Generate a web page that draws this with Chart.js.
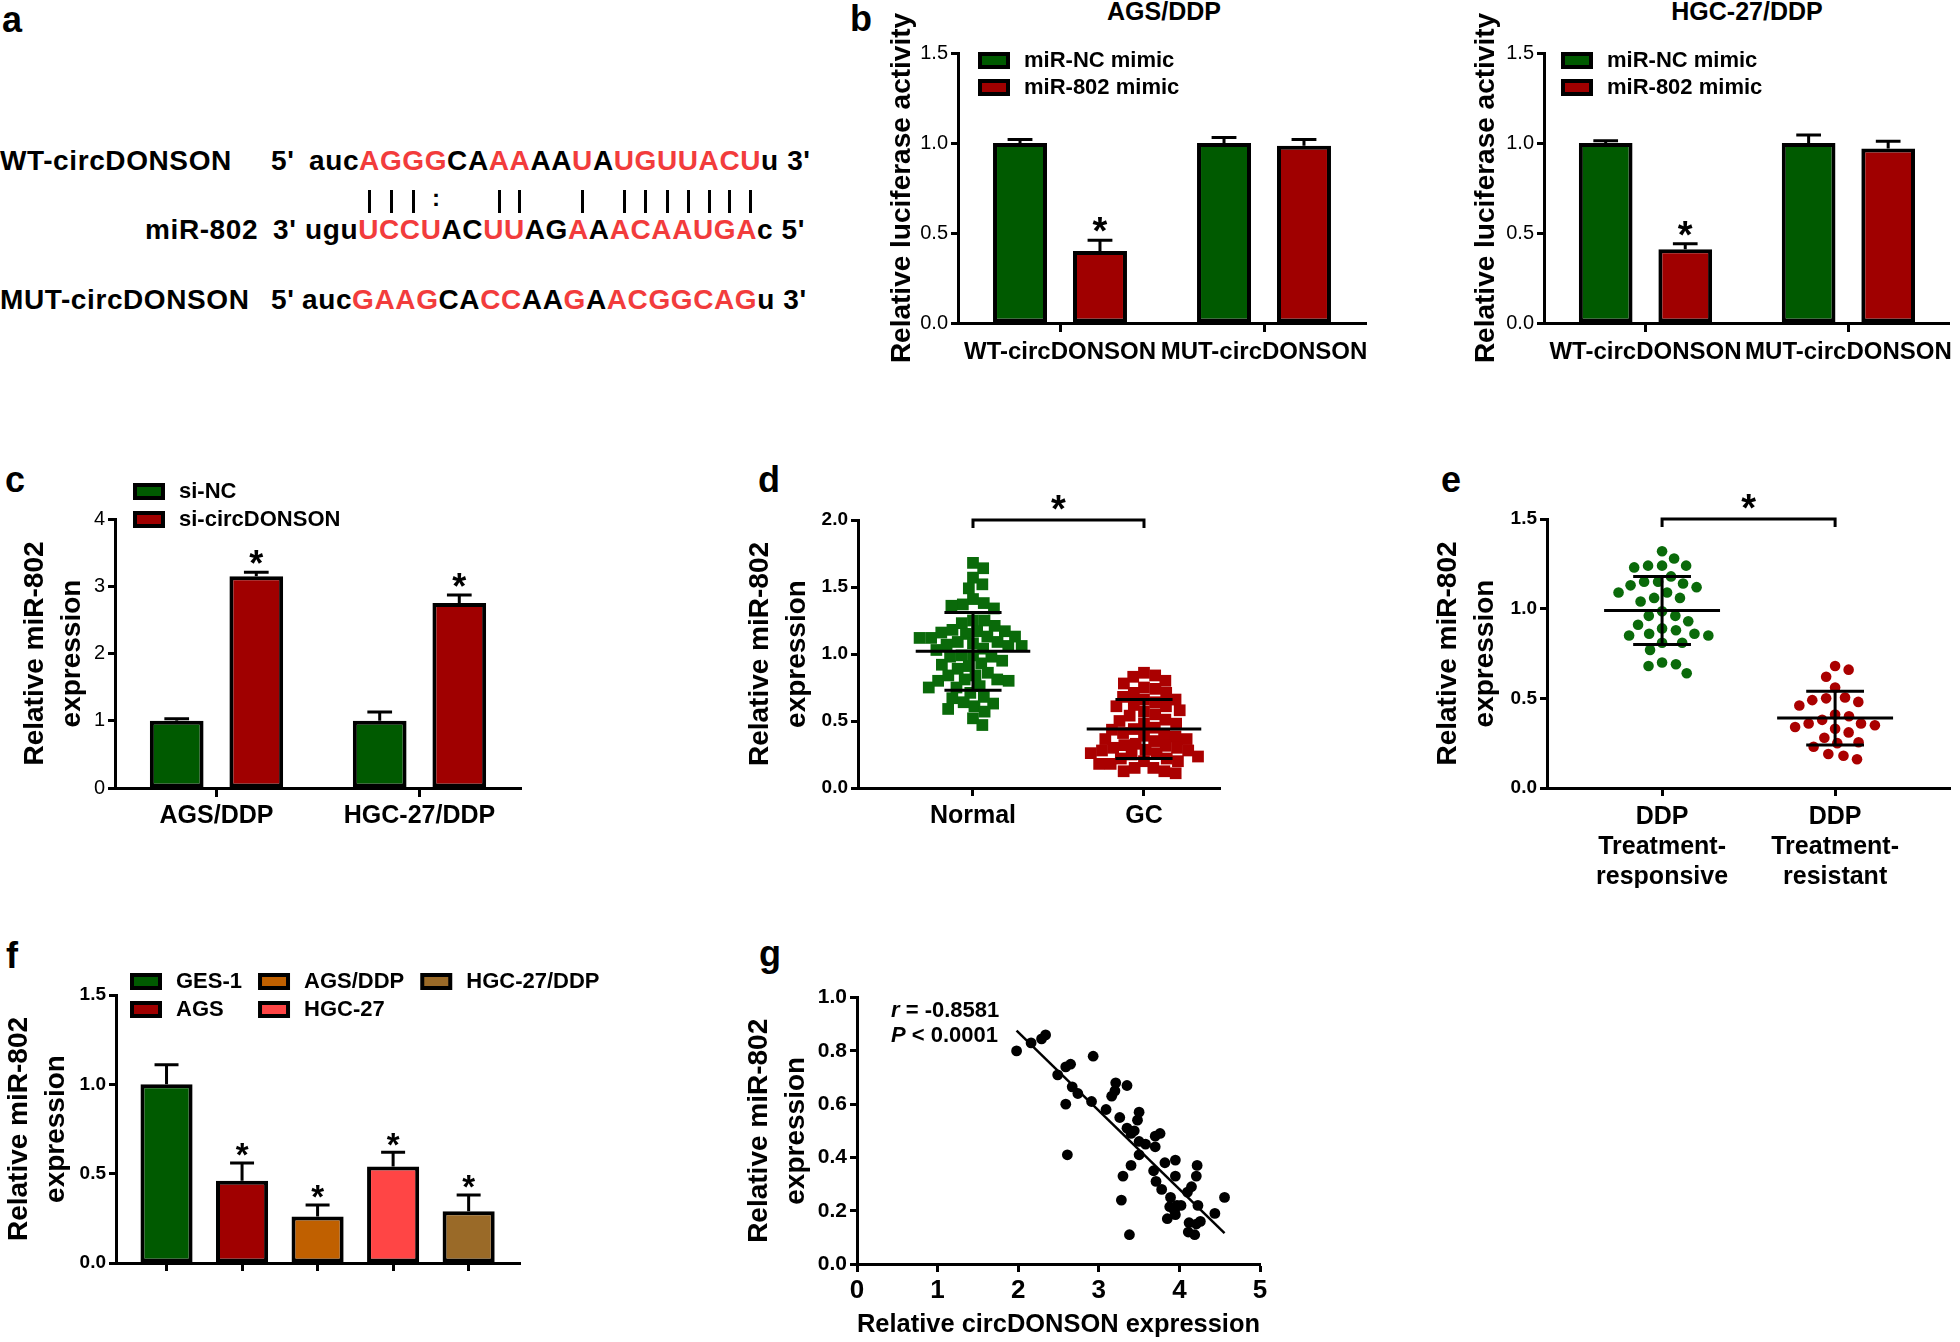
<!DOCTYPE html>
<html lang="en">
<head>
<meta charset="UTF-8">
<title>circDONSON / miR-802</title>
<script src="https://cdn.jsdelivr.net/npm/chart.js"></script>
<style>
  body { margin: 0; background: #fff; }
  #fig {
    position: relative; width: 1960px; height: 1342px; overflow: hidden;
    font-family: 'Liberation Sans', Arial, sans-serif; font-weight: bold; color: #000;
  }
  .letter { position: absolute; font-size: 36px; line-height: 1; }
  .txt { position: absolute; line-height: 1; white-space: pre; }
  .seq { font-size: 28px; letter-spacing: 0.6px; }
  .red { color: #f23c3c; }
  .pair { position: absolute; top: 190px; width: 3px; height: 23px; background: #000; }
  .box { position: absolute; }
</style>
</head>
<body>
<div id="fig">
  <!-- panel letters -->
  <div class="letter" style="left:2px;top:2px">a</div>
  <div class="letter" style="left:850px;top:1px">b</div>
  <div class="letter" style="left:5px;top:462px">c</div>
  <div class="letter" style="left:758px;top:462px">d</div>
  <div class="letter" style="left:1441px;top:462px">e</div>
  <div class="letter" style="left:6px;top:938px">f</div>
  <div class="letter" style="left:759px;top:936px">g</div>

  <!-- a: binding site -->
  <div class="txt seq" style="left:0;top:147px">WT-circDONSON</div>
  <div class="txt seq" style="left:271px;top:147px">5'</div>
  <div class="txt seq" id="seqWT" style="left:309px;top:147px"></div>
  <div class="txt seq" style="left:145px;top:216px">miR-802</div>
  <div class="txt seq" style="left:273px;top:216px">3'</div>
  <div class="txt seq" id="seqMir" style="left:305px;top:216px"></div>
  <div class="txt seq" style="left:0;top:286px">MUT-circDONSON</div>
  <div class="txt seq" style="left:271px;top:286px">5'</div>
  <div class="txt seq" id="seqMut" style="left:302px;top:286px"></div>

  <!-- b titles -->
  <div class="txt" style="left:1064px;width:200px;text-align:center;top:-1px;font-size:25px">AGS/DDP</div>
  <div class="txt" style="left:1647px;width:200px;text-align:center;top:-1px;font-size:25px">HGC-27/DDP</div>

  <div class="box" id="boxB1"><canvas id="chartB1"></canvas></div>
  <div class="box" id="boxB2"><canvas id="chartB2"></canvas></div>
  <div class="box" id="boxC"><canvas id="chartC"></canvas></div>
  <div class="box" id="boxD"><canvas id="chartD"></canvas></div>
  <div class="box" id="boxE"><canvas id="chartE"></canvas></div>
  <div class="box" id="boxF"><canvas id="chartF"></canvas></div>
  <div class="box" id="boxG"><canvas id="chartG"></canvas></div>
</div>

<script>
// ---- a: sequences ----
const wtSeq = 'aucAGGGCAAAAAUAUGUUACUu';
const mirSeq = 'uguUCCUACUUAGAAACAAUGAc';
const mutSeq = 'aucGAAGCACCAAGAACGGCAGu';
const seedMask = '...1111..11..1.1111111.';
const pairing = '   |||:  ||  | ||||||| ';

// ---- b: luciferase reporter ----
const lucGroups = ['WT-circDONSON', 'MUT-circDONSON'];
const agsNc = [1.0, 1.0];
const agsNcErr = [0.02, 0.03];
const ags802 = [0.40, 0.985];
const ags802Err = [0.06, 0.035];
const hgcNc = [1.0, 1.0];
const hgcNcErr = [0.012, 0.045];
const hgc802 = [0.41, 0.97];
const hgc802Err = [0.03, 0.04];
const lucStars = [true, false];

// ---- c: knockdown ----
const cellLines = ['AGS/DDP', 'HGC-27/DDP'];
const siNc = [1.0, 1.0];
const siNcErr = [0.03, 0.13];
const siCirc = [3.15, 2.75];
const siCircErr = [0.06, 0.12];
const siStars = [true, true];

// ---- d: tissues ----
const tissueGroups = ['Normal', 'GC'];
const normalVals = [1.68, 1.64, 1.57, 1.52, 1.49, 1.41, 1.38, 1.37, 1.36, 1.34,
  1.25, 1.25, 1.21, 1.23, 1.17, 1.16, 1.17, 1.18, 1.15, 1.13,
  1.13, 1.12, 1.12, 1.09, 1.09, 1.07, 1.08, 1.06, 1.06, 1.03,
  1.04, 0.99, 0.98, 0.98, 0.99, 0.93, 0.91, 0.89, 0.92, 0.95,
  0.84, 0.81, 0.80, 0.76, 0.80, 0.81, 0.84, 0.86, 0.75, 0.71,
  0.67, 0.64, 0.63, 0.61, 0.68, 0.75, 0.57, 0.59, 0.52, 0.47];
const gcVals = [0.86, 0.83, 0.78, 0.75, 0.80, 0.84, 0.74, 0.71, 0.71, 0.66,
  0.68, 0.66, 0.62, 0.61, 0.61, 0.64, 0.58, 0.57, 0.55, 0.54,
  0.51, 0.50, 0.48, 0.48, 0.44, 0.45, 0.40, 0.41, 0.385, 0.39,
  0.365, 0.365, 0.35, 0.33, 0.32, 0.315, 0.30, 0.30, 0.28, 0.28,
  0.26, 0.26, 0.25, 0.22, 0.22, 0.20, 0.20, 0.18, 0.18, 0.15,
  0.15, 0.125, 0.125, 0.11, 0.435, 0.285, 0.235];
const tissueMean = [1.02, 0.44];
const tissueSD = [0.29, 0.22];

// ---- e: DDP response ----
const responseGroups = [['DDP', 'Treatment-', 'responsive'], ['DDP', 'Treatment-', 'resistant']];
const responsiveVals = [1.32, 1.28, 1.24, 1.24, 1.23, 1.24, 1.18, 1.15, 1.14, 1.15,
  1.12, 1.13, 1.09, 1.09, 1.06, 1.06, 1.04, 0.985, 0.96, 0.96,
  0.93, 0.91, 0.88, 0.89, 0.86, 0.85, 0.85, 0.86, 0.81, 0.81,
  0.77, 0.69, 0.70, 0.68, 0.64];
const resistantVals = [0.68, 0.66, 0.62, 0.56, 0.50, 0.505, 0.48, 0.49, 0.46, 0.41,
  0.40, 0.38, 0.35, 0.36, 0.36, 0.34, 0.33, 0.31, 0.28, 0.255,
  0.25, 0.23, 0.19, 0.18, 0.16];
const responseMean = [0.99, 0.39];
const responseSD = [0.19, 0.15];

// ---- f: cell lines ----
const fLines = ['GES-1', 'AGS', 'AGS/DDP', 'HGC-27', 'HGC-27/DDP'];
const fMean = [1.0, 0.46, 0.26, 0.54, 0.29];
const fErr = [0.11, 0.10, 0.065, 0.08, 0.09];
const fStars = [false, true, true, true, true];

// ---- g: correlation ----
const gX = [1.98, 2.16, 2.29, 2.34, 2.59, 2.65, 2.49, 2.67, 2.74, 2.59,
  2.61, 2.93, 2.91, 3.09, 3.16, 3.20, 3.21, 3.35, 3.26, 3.35,
  3.44, 3.50, 3.48, 3.40, 3.50, 3.58, 3.50, 3.40, 3.30, 3.28,
  3.38, 3.70, 3.76, 3.70, 3.68, 3.71, 3.78, 3.82, 3.95, 3.95,
  3.89, 3.88, 3.85, 3.94, 3.97, 4.02, 3.95, 4.10, 4.15, 4.22,
  4.21, 4.23, 4.12, 4.11, 4.19, 4.21, 4.26, 4.44, 4.56];
const gY = [0.80, 0.83, 0.845, 0.86, 0.74, 0.75, 0.71, 0.665, 0.64, 0.60,
  0.41, 0.78, 0.61, 0.58, 0.63, 0.65, 0.68, 0.67, 0.55, 0.51,
  0.50, 0.57, 0.54, 0.49, 0.46, 0.45, 0.41, 0.37, 0.33, 0.24,
  0.11, 0.48, 0.49, 0.44, 0.35, 0.31, 0.28, 0.38, 0.39, 0.33,
  0.25, 0.215, 0.17, 0.20, 0.22, 0.22, 0.185, 0.27, 0.29, 0.37,
  0.33, 0.22, 0.155, 0.12, 0.11, 0.15, 0.16, 0.19, 0.25];

const GREEN = '#005a00';
const RED = '#a00000';
const DOT_GREEN = '#0a6a0a';
const DOT_RED = '#aa0000';
const fColors = ['#005a00', '#a00000', '#c06000', '#ff4545', '#9a6a28'];
const FONT = "'Liberation Sans', Arial, sans-serif";

// ---------- panel a ----------
function fillSeq(id, seq) {
  const el = document.getElementById(id);
  [...seq].forEach((ch, i) => {
    const s = document.createElement('span');
    s.textContent = ch;
    if (seedMask[i] === '1') s.className = 'red';
    el.appendChild(s);
  });
  el.appendChild(document.createTextNode(id === 'seqMir' ? " 5'" : " 3'"));
  return el;
}
const wtRow = fillSeq('seqWT', wtSeq);
fillSeq('seqMir', mirSeq);
fillSeq('seqMut', mutSeq);

const fig = document.getElementById('fig');
const figLeft = fig.getBoundingClientRect().left;
[...pairing].forEach((p, i) => {
  if (p === ' ') return;
  const r = wtRow.children[i].getBoundingClientRect();
  const cx = r.left + r.width / 2 - figLeft;
  if (p === '|') {
    const bar = document.createElement('div');
    bar.className = 'pair';
    bar.style.left = (cx - 1.5) + 'px';
    fig.appendChild(bar);
  } else {
    const dots = document.createElement('div');
    dots.className = 'txt';
    dots.style.cssText = 'font-size:24px;width:20px;text-align:center;top:186px;color:#000;left:' + (cx - 10) + 'px';
    dots.textContent = p;
    fig.appendChild(dots);
  }
});

// ---------- Chart.js ----------
Chart.defaults.font.family = FONT;
Chart.defaults.font.weight = 'bold';
Chart.defaults.color = '#000';
Chart.defaults.animation = false;
Chart.defaults.events = [];
Chart.defaults.maintainAspectRatio = false;
Chart.defaults.plugins.legend.display = false;
Chart.defaults.plugins.tooltip.enabled = false;

// upper error bars + significance stars on bars
const errorBars = {
  id: 'errorBars',
  afterDatasetsDraw(chart, args, o) {
    const ctx = chart.ctx, y = chart.scales.y;
    const size = o.starSize || 32;
    ctx.save();
    ctx.strokeStyle = '#000';
    ctx.fillStyle = '#000';
    ctx.lineWidth = 3;
    ctx.font = 'bold ' + size + 'px ' + FONT;
    ctx.textAlign = 'center';
    ctx.textBaseline = 'alphabetic';
    chart.data.datasets.forEach((ds, di) => {
      if (!ds.errors) return;
      chart.getDatasetMeta(di).data.forEach((bar, i) => {
        const v = typeof ds.data[i] === 'object' ? ds.data[i].y : ds.data[i];
        const top = y.getPixelForValue(v + ds.errors[i]);
        const half = bar.width * 0.23;
        ctx.beginPath();
        ctx.moveTo(bar.x, bar.y);
        ctx.lineTo(bar.x, top);
        ctx.moveTo(bar.x - half, top);
        ctx.lineTo(bar.x + half, top);
        ctx.stroke();
        if (ds.stars && ds.stars[i]) ctx.fillText('*', bar.x, top + size * 0.1);
      });
    });
    ctx.restore();
  }
};

// legend drawn inside the figure, column by column
const insetLegend = {
  id: 'insetLegend',
  afterDraw(chart, args, o) {
    if (!o.rows) return;
    const ds = chart.data.datasets;
    const items = ds.length > 1
      ? ds.map(d => ({ text: d.label, color: d.backgroundColor }))
      : chart.data.labels.map((t, i) => ({ text: t, color: ds[0].backgroundColor[i] }));
    const ctx = chart.ctx, a = chart.chartArea;
    ctx.save();
    ctx.font = 'bold ' + o.size + 'px ' + FONT;
    ctx.textBaseline = 'middle';
    let x = a.left + o.dx;
    for (let c = 0; c * o.rows < items.length; c++) {
      const col = items.slice(c * o.rows, (c + 1) * o.rows);
      col.forEach((it, r) => {
        const y = a.top + o.dy + r * o.rowH;
        ctx.fillStyle = '#000';
        ctx.fillRect(x, y, 32, 17);
        ctx.fillStyle = it.color;
        ctx.fillRect(x + 4, y + 4, 24, 9);
        ctx.fillStyle = '#000';
        ctx.fillText(it.text, x + 46, y + 9);
      });
      x += 46 + Math.max(...col.map(it => ctx.measureText(it.text).width)) + 16;
    }
    ctx.restore();
  }
};

// mean +/- SD for dot plots
const meanSD = {
  id: 'meanSD',
  afterDatasetsDraw(chart, args, o) {
    if (!o.mean) return;
    const { ctx, scales: { x, y } } = chart;
    const unit = x.getPixelForValue(2) - x.getPixelForValue(1);
    ctx.save();
    ctx.strokeStyle = '#000';
    ctx.lineWidth = 3;
    o.mean.forEach((m, i) => {
      const cx = x.getPixelForValue(i + 1);
      const ym = y.getPixelForValue(m);
      const yt = y.getPixelForValue(m + o.sd[i]);
      const yb = y.getPixelForValue(m - o.sd[i]);
      const wm = unit * 0.335, wc = unit * 0.167;
      ctx.beginPath();
      ctx.moveTo(cx - wm, ym); ctx.lineTo(cx + wm, ym);
      ctx.moveTo(cx, yt); ctx.lineTo(cx, yb);
      ctx.moveTo(cx - wc, yt); ctx.lineTo(cx + wc, yt);
      ctx.moveTo(cx - wc, yb); ctx.lineTo(cx + wc, yb);
      ctx.stroke();
    });
    ctx.restore();
  }
};

// significance bracket between groups
const sigBracket = {
  id: 'sigBracket',
  afterDraw(chart, args, o) {
    if (o.at === undefined) return;
    const { ctx, scales: { x, y } } = chart;
    const x1 = x.getPixelForValue(o.from), x2 = x.getPixelForValue(o.to);
    const yy = y.getPixelForValue(o.at);
    ctx.save();
    ctx.strokeStyle = '#000';
    ctx.lineWidth = 3;
    ctx.beginPath();
    ctx.moveTo(x1, yy + 8); ctx.lineTo(x1, yy); ctx.lineTo(x2, yy); ctx.lineTo(x2, yy + 8);
    ctx.stroke();
    ctx.fillStyle = '#000';
    ctx.font = 'bold 38px ' + FONT;
    ctx.textAlign = 'center';
    ctx.fillText('*', (x1 + x2) / 2, yy + 2);
    ctx.restore();
  }
};

// r / P annotation with italic symbols
const corrNote = {
  id: 'corrNote',
  afterDraw(chart, args, o) {
    if (!o.lines) return;
    const { ctx, chartArea: a } = chart;
    ctx.save();
    ctx.fillStyle = '#000';
    o.lines.forEach((ln, k) => {
      let x = a.left + o.dx;
      const y = a.top + o.dy + k * o.lineH;
      ln.forEach(([t, italic]) => {
        ctx.font = (italic ? 'italic ' : '') + 'bold ' + o.size + 'px ' + FONT;
        ctx.fillText(t, x, y);
        x += ctx.measureText(t).width;
      });
    });
    ctx.restore();
  }
};

Chart.register(errorBars, insetLegend, meanSD, sigBracket, corrNote);

// size a chart box so the plot area lands on [x0, y0, x1, y1]
function place(id, area, yw, xh, pad) {
  const el = document.getElementById(id);
  el.style.left = (area[0] - yw - pad.left) + 'px';
  el.style.top = (area[1] - pad.top) + 'px';
  el.style.width = (area[2] - area[0] + yw + pad.left + pad.right) + 'px';
  el.style.height = (area[3] - area[1] + xh + pad.top + pad.bottom) + 'px';
  return el.querySelector('canvas');
}

function yScale(min, max, step, width, title, tickFont, digits) {
  return {
    min, max,
    ticks: { stepSize: step, padding: 3, font: tickFont, callback: v => v.toFixed(digits) },
    grid: { drawOnChartArea: false, tickLength: 7, tickWidth: 3, tickColor: '#000' },
    border: { color: '#000', width: 3 },
    title: { display: true, text: title, font: { size: 28, weight: 'bold', lineHeight: 1.35 }, padding: 0 },
    afterFit: s => { s.width = width; }
  };
}

function xCategory(height, size, pad) {
  return {
    type: 'category',
    offset: true,
    ticks: { padding: pad, font: { size }, maxRotation: 0, autoSkip: false },
    grid: { offset: false, drawOnChartArea: false, tickLength: 9, tickWidth: 3, tickColor: '#000' },
    border: { color: '#000', width: 3 },
    afterFit: s => { s.height = height; }
  };
}

function xGroups(min, max, count, height, size, pad, labelOf) {
  return {
    type: 'linear',
    min, max, offset: false,
    afterBuildTicks: s => { s.ticks = Array.from({ length: count }, (_, i) => ({ value: i + 1 })); },
    ticks: { padding: pad, font: { size, lineHeight: 1.2 }, maxRotation: 0, autoSkip: false,
             callback: (v, i) => labelOf(i) },
    grid: { offset: false, drawOnChartArea: false, tickLength: 8, tickWidth: 3, tickColor: '#000' },
    border: { color: '#000', width: 3 },
    afterFit: s => { s.height = height; }
  };
}

function barSet(label, data, errors, color, stars) {
  return { label, data, errors, stars, backgroundColor: color, borderColor: '#000',
           borderWidth: 4, borderSkipped: false, categoryPercentage: 0.784, barPercentage: 0.675 };
}

// ---- b ----
function lucChart(boxId, area, yw, padR, nc, ncErr, mi, miErr, legendDx) {
  const pad = { top: 45, right: padR, bottom: 0, left: 0 };
  return new Chart(place(boxId, area, yw, 50, pad), {
    type: 'bar',
    data: {
      labels: lucGroups,
      datasets: [
        barSet('miR-NC mimic', nc, ncErr, GREEN),
        barSet('miR-802 mimic', mi, miErr, RED, lucStars)
      ]
    },
    options: {
      layout: { padding: pad },
      scales: {
        x: xCategory(50, 24, 6),
        y: yScale(0, 1.5, 0.5, yw, 'Relative luciferase activity', { size: 20, weight: 'normal' }, 1)
      },
      plugins: {
        errorBars: { starSize: 38 },
        insetLegend: { rows: 2, dx: legendDx, dy: -1, rowH: 27, size: 22 }
      }
    }
  });
}
lucChart('boxB1', [958, 53, 1366, 323], 75, 12, agsNc, agsNcErr, ags802, ags802Err, 20);
lucChart('boxB2', [1544, 53, 1951, 323], 77, 9, hgcNc, hgcNcErr, hgc802, hgc802Err, 17);

// ---- c ----
(function () {
  const pad = { top: 50, right: 40, bottom: 0, left: 0 };
  new Chart(place('boxC', [115, 519, 521, 788], 99, 45, pad), {
    type: 'bar',
    data: {
      labels: cellLines,
      datasets: [
        barSet('si-NC', siNc, siNcErr, GREEN),
        barSet('si-circDONSON', siCirc, siCircErr, RED, siStars)
      ]
    },
    options: {
      layout: { padding: pad },
      scales: {
        x: xCategory(45, 25, 4),
        y: yScale(0, 4, 1, 99, ['Relative miR-802', 'expression'], { size: 20, weight: 'normal' }, 0)
      },
      plugins: {
        errorBars: { starSize: 36 },
        insetLegend: { rows: 2, dx: 18, dy: -36, rowH: 28, size: 22 }
      }
    }
  });
})();

// beeswarm spread of dots around each group centre
function swarm(chart, diam) {
  const xs = chart.scales.x, ys = chart.scales.y;
  const unit = xs.getPixelForValue(2) - xs.getPixelForValue(1);
  chart.data.datasets.forEach((ds, di) => {
    const pts = ds.data.map((p, i) => ({ i, py: ys.getPixelForValue(p.y), px: 0 }));
    pts.sort((a, b) => a.py - b.py);
    const placed = [];
    pts.forEach(p => {
      const near = placed.filter(q => Math.abs(q.py - p.py) < diam);
      const cands = [0];
      near.forEach(q => {
        const dx = Math.sqrt(diam * diam - (q.py - p.py) ** 2);
        cands.push(q.px + dx, q.px - dx);
      });
      cands.sort((a, b) => Math.abs(a) - Math.abs(b));
      const ok = cands.find(c => near.every(q => (q.px - c) ** 2 + (q.py - p.py) ** 2 >= diam * diam - 0.5));
      p.px = ok === undefined ? 0 : ok;
      placed.push(p);
    });
    placed.forEach(p => { ds.data[p.i].x = di + 1 + p.px / unit; });
  });
  chart.update('none');
}

function dotSet(label, vals, group, color, style, radius) {
  return { label, data: vals.map(v => ({ x: group, y: v })), backgroundColor: color,
           borderWidth: 0, pointStyle: style, pointRadius: radius };
}

// ---- d ----
(function () {
  const pad = { top: 40, right: 15, bottom: 0, left: 0 };
  const chart = new Chart(place('boxD', [858, 520, 1220, 788], 117, 45, pad), {
    type: 'scatter',
    data: {
      datasets: [
        dotSet('Normal', normalVals, 1, DOT_GREEN, 'rect', 8.3),
        dotSet('GC', gcVals, 2, DOT_RED, 'rect', 8.3)
      ]
    },
    options: {
      layout: { padding: pad },
      scales: {
        x: xGroups(0.3275, 2.4445, 2, 45, 25, 5, i => tissueGroups[i]),
        y: yScale(0, 2, 0.5, 117, ['Relative miR-802', 'expression'], { size: 19 }, 1)
      },
      plugins: {
        meanSD: { mean: tissueMean, sd: tissueSD },
        sigBracket: { from: 1, to: 2, at: 2 }
      }
    }
  });
  swarm(chart, 11.5);
})();

// ---- e ----
(function () {
  const pad = { top: 40, right: 10, bottom: 0, left: 0 };
  const chart = new Chart(place('boxE', [1547, 519, 1950, 788], 118, 100, pad), {
    type: 'scatter',
    data: {
      datasets: [
        dotSet('DDP treatment-responsive', responsiveVals, 1, DOT_GREEN, 'circle', 5.3),
        dotSet('DDP treatment-resistant', resistantVals, 2, DOT_RED, 'circle', 5.3)
      ]
    },
    options: {
      layout: { padding: pad },
      scales: {
        x: xGroups(0.335, 2.664, 2, 100, 25, 6, i => responseGroups[i]),
        y: yScale(0, 1.5, 0.5, 118, ['Relative miR-802', 'expression'], { size: 19 }, 1)
      },
      plugins: {
        meanSD: { mean: responseMean, sd: responseSD },
        sigBracket: { from: 1, to: 2, at: 1.5 }
      }
    }
  });
  swarm(chart, 14);
})();

// ---- f ----
(function () {
  const pad = { top: 30, right: 90, bottom: 0, left: 0 };
  new Chart(place('boxF', [116, 995, 520, 1263], 116, 20, pad), {
    type: 'bar',
    data: {
      labels: fLines,
      datasets: [{
        label: 'miR-802',
        data: fMean.map((v, i) => ({ x: i + 1, y: v })),
        errors: fErr, stars: fStars,
        backgroundColor: fColors, borderColor: '#000', borderWidth: 4, borderSkipped: false,
        categoryPercentage: 1, barPercentage: 0.69
      }]
    },
    options: {
      layout: { padding: pad },
      scales: {
        x: xGroups(0.331, 5.68, fLines.length, 20, 10, 0, () => ''),
        y: yScale(0, 1.5, 0.5, 116, ['Relative miR-802', 'expression'], { size: 19 }, 1)
      },
      plugins: {
        errorBars: { starSize: 33 },
        insetLegend: { rows: 2, dx: 14, dy: -22, rowH: 28, size: 22 }
      }
    }
  });
})();

// ---- g ----
(function () {
  const n = gX.length;
  const mx = gX.reduce((s, v) => s + v, 0) / n;
  const my = gY.reduce((s, v) => s + v, 0) / n;
  let sxy = 0, sxx = 0;
  for (let i = 0; i < n; i++) { sxy += (gX[i] - mx) * (gY[i] - my); sxx += (gX[i] - mx) ** 2; }
  const slope = sxy / sxx, icpt = my - slope * mx;
  const xLo = Math.min(...gX), xHi = Math.max(...gX);

  const pad = { top: 15, right: 30, bottom: 0, left: 0 };
  new Chart(place('boxG', [857, 997, 1260, 1264], 117, 78, pad), {
    type: 'scatter',
    data: {
      datasets: [
        { type: 'line', label: 'fit', order: 0,
          data: [{ x: xLo, y: icpt + slope * xLo }, { x: xHi, y: icpt + slope * xHi }],
          borderColor: '#000', borderWidth: 2.5, pointRadius: 0, fill: false },
        { label: 'samples', order: 1, data: gX.map((x, i) => ({ x, y: gY[i] })),
          backgroundColor: '#000', borderWidth: 0, pointRadius: 5.4 }
      ]
    },
    options: {
      layout: { padding: pad },
      scales: {
        x: {
          type: 'linear', min: 0, max: 5,
          ticks: { stepSize: 1, padding: 3, font: { size: 26 } },
          grid: { drawOnChartArea: false, tickLength: 8, tickWidth: 3, tickColor: '#000' },
          border: { color: '#000', width: 3 },
          title: { display: true, text: 'Relative circDONSON expression', font: { size: 26, weight: 'bold' },
                   padding: { top: 0, bottom: 2 } },
          afterFit: s => { s.height = 78; }
        },
        y: yScale(0, 1, 0.2, 117, ['Relative miR-802', 'expression'], { size: 21 }, 1)
      },
      plugins: {
        corrNote: { dx: 34, dy: 19, lineH: 25, size: 22,
                    lines: [[['r', true], [' = -0.8581', false]], [['P', true], [' < 0.0001', false]]] }
      }
    }
  });
})();
</script>
</body>
</html>
